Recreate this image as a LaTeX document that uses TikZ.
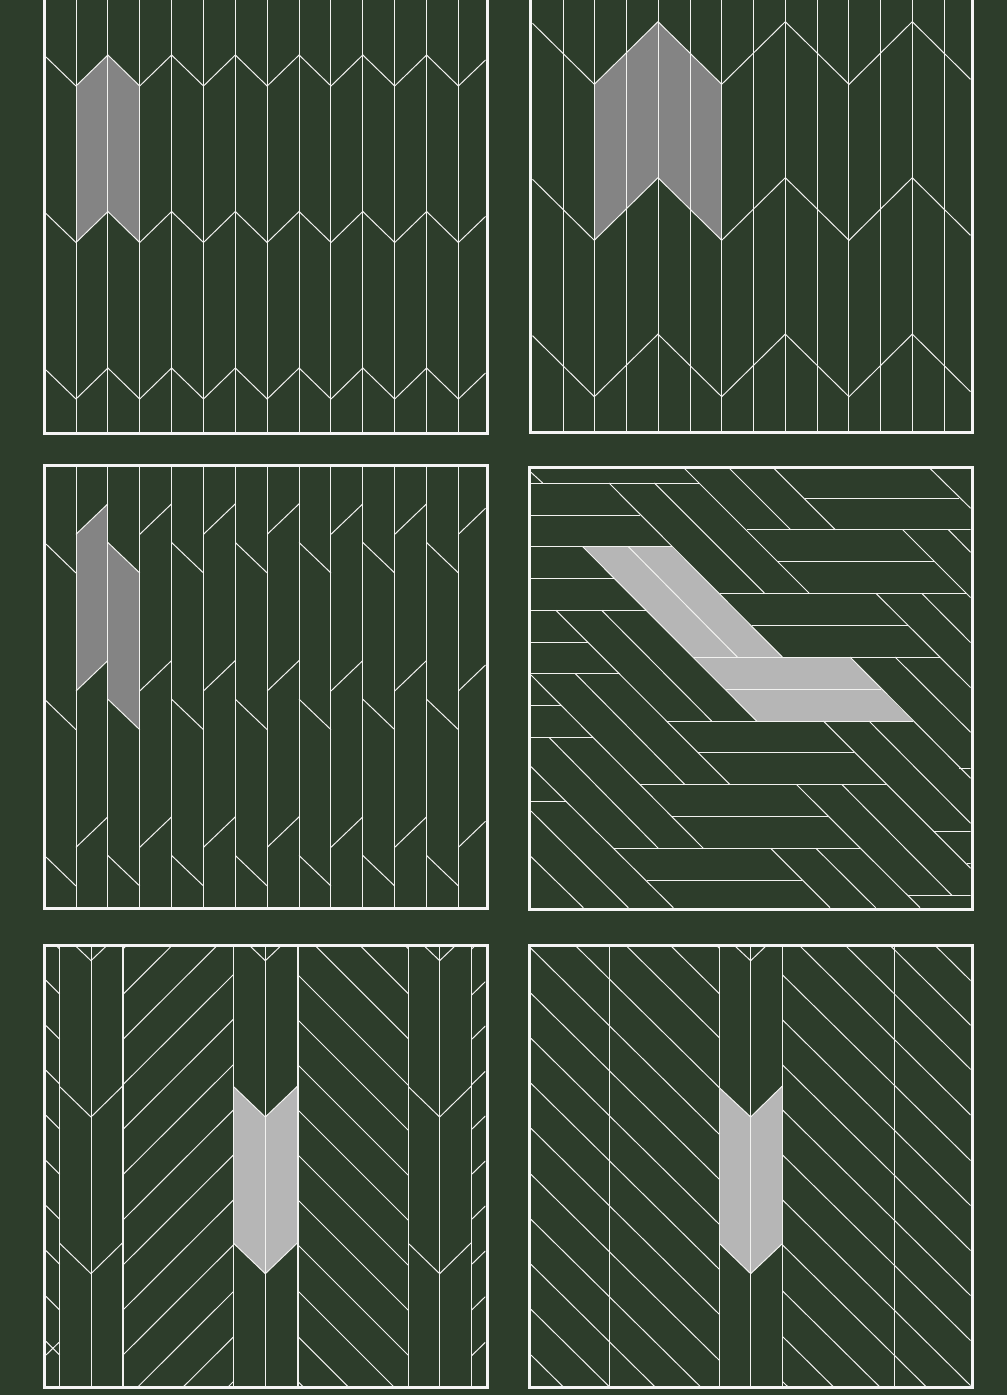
\documentclass[tikz,border=0pt]{standalone}
\definecolor{bgreen}{HTML}{2D3D2B}
\definecolor{pale}{HTML}{F2F2F0}
\definecolor{greyA}{HTML}{848484}
\definecolor{greyB}{HTML}{B6B6B6}
\tikzset{
  ln/.style={draw=pale,line width=1pt,line join=miter},
  lnb/.style={draw=pale,line width=1.3pt},
  frm/.style={draw=white!96!black,line width=3pt},
  zoomA/.style={shift={(30,935)},x=0.33333pt,y=-0.33333pt},
  zoomB/.style={shift={(520,935)},x=0.33333pt,y=-0.33333pt},
  zoomC/.style={shift={(520,455)},x=0.33333pt,y=-0.33333pt}
}
\begin{document}
\begin{tikzpicture}[x=1pt,y=-1pt]
\useasboundingbox (0,0) rectangle (1007,1395);
\clip (0,0) rectangle (1007,1395);
\fill[bgreen] (0,0) rectangle (1007,1395);

% ---------- panel 1
\fill[greyA] (76,86) -- (107.8,55) -- (139.5,86) -- (139.5,242.5) -- (107.8,211.3) -- (76,242.5) -- cycle;
\foreach \i in {0,...,12} \draw[ln] ({76+31.87*\i},0) -- ({76+31.87*\i},431.5);
\foreach \y in {86,242.5,399}
  \draw[ln,shift={(0,\y)}] (46,-29) -- (76,0) -- (107.9,-31) -- (139.7,0) -- (171.6,-31) -- (203.5,0) -- (235.3,-31) -- (267.2,0) -- (299.1,-31) -- (331,0) -- (362.8,-31) -- (394.7,0) -- (426.6,-31) -- (458.4,0) -- (485.5,-26);
\draw[frm] (44.5,-5) -- (44.5,433) -- (487,433) -- (487,-5);

% ---------- panel 2
\fill[greyA] (594.3,84.3) -- (658,21.7) -- (721.7,84.3) -- (721.7,240.3) -- (658,177.7) -- (594.3,240.3) -- cycle;
\foreach \i in {0,...,12} \draw[ln] ({563+31.75*\i},0) -- ({563+31.75*\i},430.5);
\foreach \y in {84.3,240.3,396.7}
  \draw[ln,shift={(0,\y)}] (532.5,-61) -- (594.3,0) -- (658,-62.6) -- (721.7,0) -- (785.3,-62.6) -- (849,0) -- (912.3,-62.6) -- (970.5,-5);
\draw[frm] (530.7,-5) -- (530.7,432) -- (972,432) -- (972,-5);

% ---------- panel 3
\fill[greyA] (76,534.3) -- (107.8,504) -- (107.8,660.5) -- (76,691) -- cycle;
\fill[greyA] (107.8,542.3) -- (139.6,573) -- (139.6,729.7) -- (107.8,699) -- cycle;
\foreach \i in {0,...,12} \draw[ln] ({76+31.87*\i},466) -- ({76+31.87*\i},907);
\foreach \y in {534.3,691,847.3} {
  \foreach \a in {0,2,4,6,8,10}
    \draw[ln] ({76+31.87*\a},\y) -- ({107.9+31.87*\a},\y-30.5);
  \draw[ln] (458.4,\y) -- (485.5,\y-26);
}
\foreach \y in {573,729.7,886} {
  \draw[ln] (46,\y-29) -- (76,\y);
  \foreach \a in {1,3,5,7,9,11}
    \draw[ln] ({76+31.87*\a},\y-30.5) -- ({107.9+31.87*\a},\y);
}
\draw[frm] (44.5,465.7) rectangle (487,908.3);

% ---------- panel 4
\begin{scope}[zoomC]
  \clip (33,40) rectangle (1352,1358);
  \fill[greyB] (188,275) -- (455,275) -- (787,606) -- (990,606) -- (1178,798) -- (710,798) -- cycle;
  \foreach \a/\b/\c in {33/537/84,855/1318/129,33/360/180,680/1352/224,33/455/275,775/1243/320,33/282/370,600/1340/415,33/378/466,695/1163/511,33/204/561,520/1260/606,33/300/656,615/1082/702,33/122/752,440/1178/798,33/218/848,535/1003/893,1318/1352/939,360/1100/989,33/140/1039,455/925/1084,1240/1352/1130,282/1020/1180,1340/1352/1225,380/845/1276,1165/1352/1321}
    \draw[ln] (\a,\c) -- (\b,\c);
  \foreach \a/\b/\c/\d in {33/52/68/84, 493/40/867/414, 628/40/812/224, 762/40/946/224, 1230/40/1352/160, 267/84/787/606, 403/84/733/414, 188/275/710/798, 325/275/652/606, 1148/224/1352/428, 1285/224/1352/292, 1068/415/1352/698, 1205/415/1352/563, 990/606/1352/970, 1125/606/1352/832, 108/466/630/989, 245/466/575/798, 33/660/550/1180, 166/656/495/989, 88/848/415/1180, 33/935/460/1358, 33/1068/325/1358, 33/1205/190/1358, 910/798/1352/1240, 1047/798/1352/1105, 830/989/1200/1358, 966/989/1296/1321, 752/1180/930/1358, 888/1180/1067/1358}
    \draw[ln] (\a,\b) -- (\c,\d);
\end{scope}
\draw[frm] (529.7,467) rectangle (972,909);

% ---------- panel 5
\begin{scope}[zoomA]
  \clip (48,33) rectangle (1366,1352);
  \fill[greyB] (611,455) -- (706,546) -- (804,452) -- (804,922) -- (706,1016) -- (611,925) -- cycle;
  \foreach \x in {183,706,1229} \draw[ln] (\x,33) -- (\x,1352);
  \foreach \x in {89,279,611,804,1135,1325} \draw[lnb] (\x,33) -- (\x,1352);
  % chevrons
  \foreach \l/\m/\r in {89/183/279,611/706/804,1135/1229/1325} {
    \draw[ln] (\m-46,33) -- (\m,77) -- (\m+46,33);
    \draw[ln] (\l,455) -- (\m,546) -- (\r,452);
    \draw[ln] (\l,925) -- (\m,1016) -- (\r,922);
  }
  % far-left narrow column
  \foreach \y in {42,177,313,447,582,718,853,988,1125,1260} \draw[ln] (48,\y-41) -- (89,\y);
  \draw[ln] (48,1260) -- (87,1222);
  % far-right narrow column
  \foreach \y in {42,180,313,449,583,718,853,988,1125,1262} \draw[ln] (1325,\y) -- (1366,\y-40);
  % rising field
  \foreach \y in {42,178,313,449,583,719,855,990,1125,1260,1400,1536,1670} \draw[ln] (279,\y) -- (611,\y-331);
  % falling field
  \foreach \y in {-290,-155,-20,120,255,390,525,660,795,930,1068,1205,1340} \draw[ln] (804,\y) -- (1135,\y+331);
\end{scope}
\draw[frm] (44.3,945) rectangle (487.3,1387);

% ---------- panel 6
\begin{scope}[zoomB]
  \clip (33,33) rectangle (1352,1352);
  \fill[greyB] (598,458) -- (692,546) -- (788,452) -- (788,925) -- (692,1016) -- (598,925) -- cycle;
  \foreach \x in {267,598,692,788,1122} \draw[ln] (\x,33) -- (\x,1352);
  \draw[ln] (645,33) -- (692,77) -- (738,33);
  \draw[ln] (598,458) -- (692,546) -- (788,452);
  \draw[ln] (598,925) -- (692,1016) -- (788,925);
  % left field
  \foreach \y in {-518,-382,-250,-100,40,175,310,445,580,718,853,988,1123,1260} \draw[ln] (33,\y) -- (598,\y+558);
  % right field
  \foreach \y in {-480,-345,-210,-75,120,255,390,525,660,795,930,1068,1205,1340} {}
  \foreach \y in {120,255,390,525,660,795,930,1068,1205,1340} \draw[ln] (788,\y) -- (1352,\y+557);
  \foreach \x in {840,978,1112,1247} \draw[ln] (\x,33) -- (\x+512,{33+512*0.99});
\end{scope}
\draw[frm] (529.7,945) rectangle (972,1387);
\end{tikzpicture}
\end{document}
